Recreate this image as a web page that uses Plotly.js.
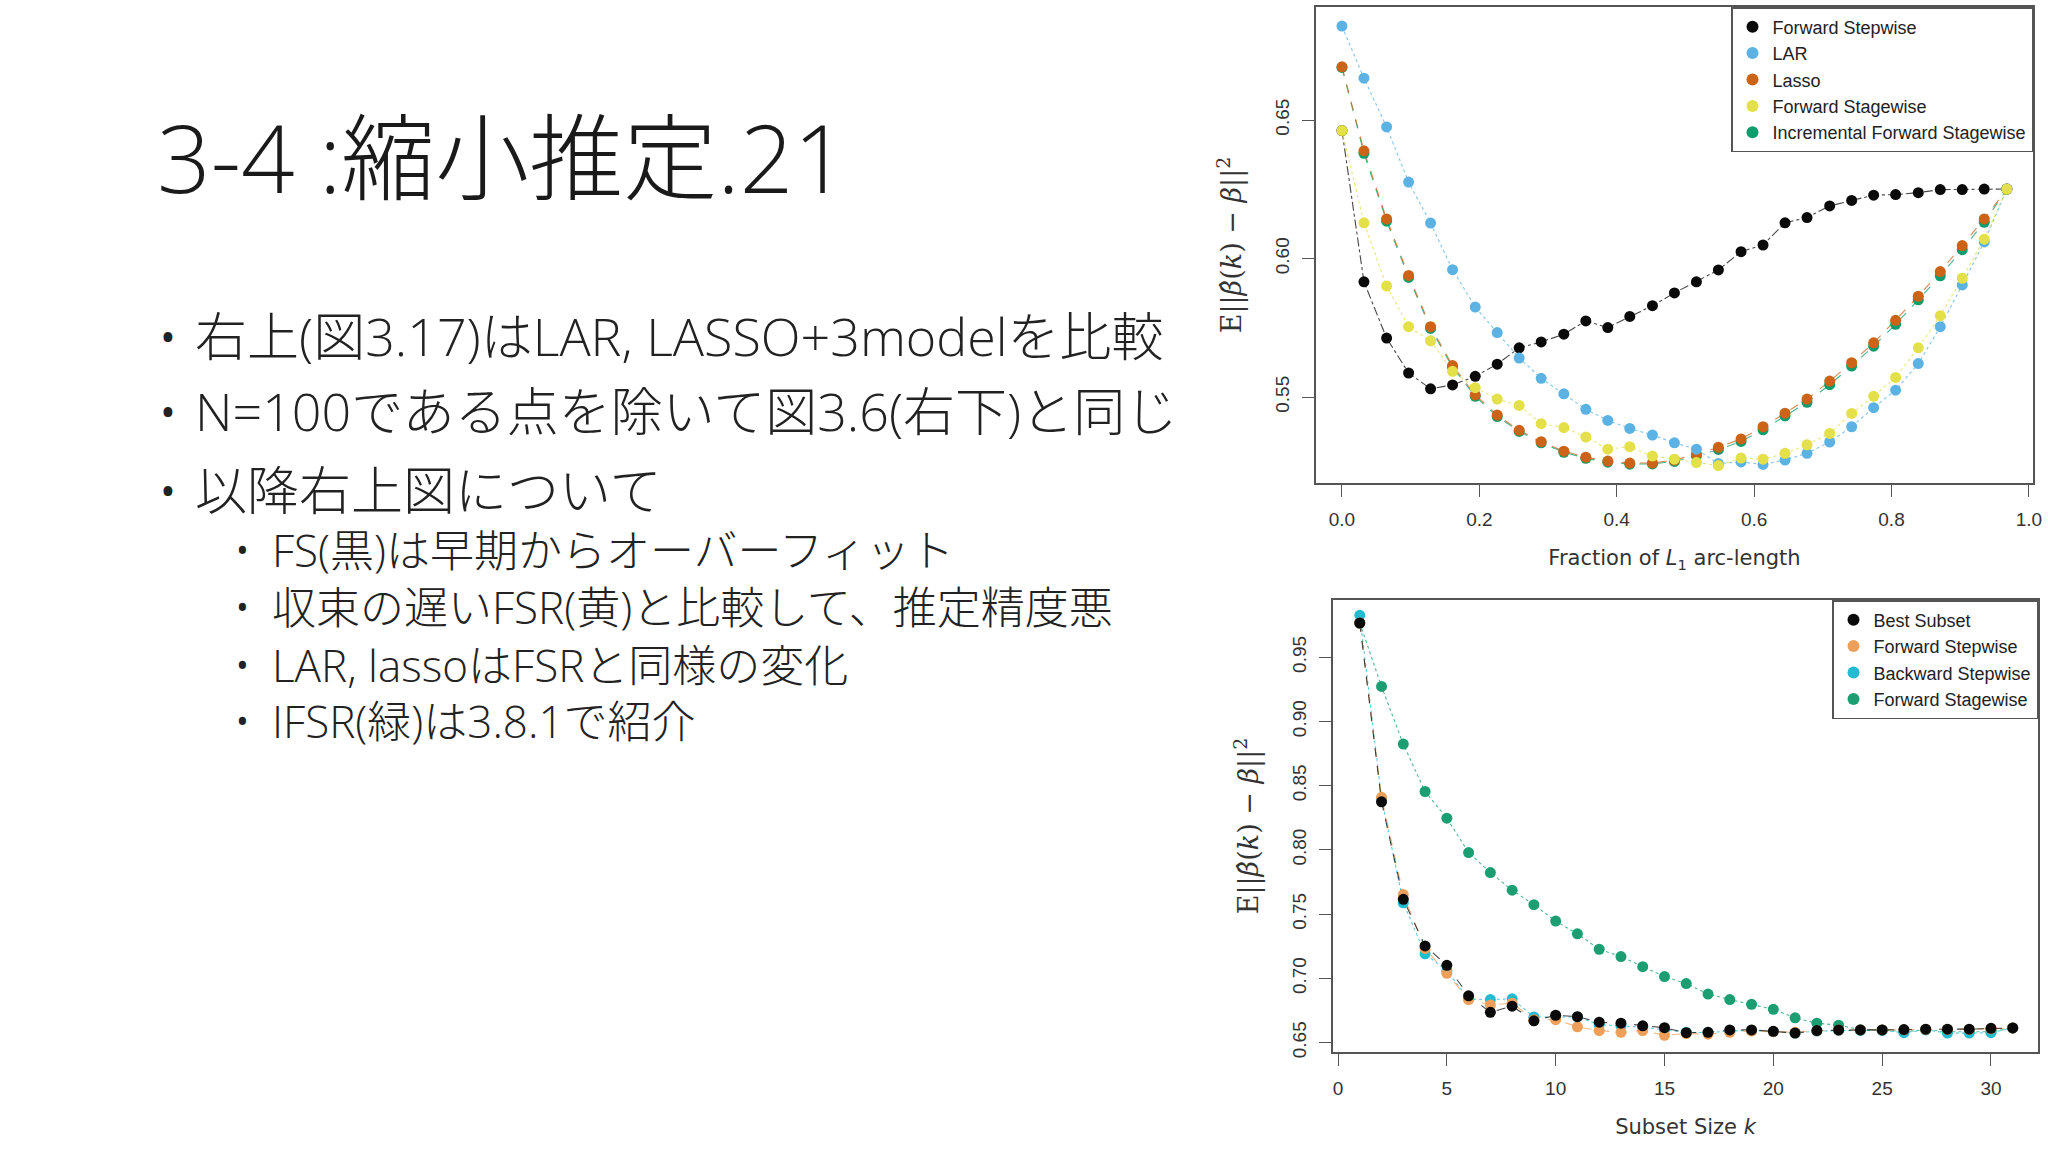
<!DOCTYPE html>
<html>
<head>
<meta charset="utf-8">
<script src="https://cdn.plot.ly/plotly-3.0.1.min.js"></script>
<style>
html, body { margin: 0; padding: 0; background: #ffffff; }
#chart { width: 2048px; height: 1152px; }
</style>
</head>
<body>
<div id="chart"></div>
<script>
// ---------------- Slide text ----------------
const slideTitle = "3-4 :縮小推定.21";
const mainBullets = [
  "右上(図3.17)はLAR, LASSO+3modelを比較",
  "N=100である点を除いて図3.6(右下)と同じ",
  "以降右上図について"
];
const subBullets = [
  "FS(黒)は早期からオーバーフィット",
  "収束の遅いFSR(黄)と比較して、推定精度悪",
  "LAR, lassoはFSRと同様の変化",
  "IFSR(緑)は3.8.1で紹介"
];

// ---------------- Top chart (Fig 3.17) ----------------
const topFraction = [0.000, 0.032, 0.065, 0.097, 0.129, 0.161, 0.194, 0.226, 0.258, 0.290,
                     0.323, 0.355, 0.387, 0.419, 0.452, 0.484, 0.516, 0.548, 0.581, 0.613,
                     0.645, 0.677, 0.710, 0.742, 0.774, 0.806, 0.839, 0.871, 0.903, 0.935, 0.968];
const topForwardStepwise = [0.6462, 0.5916, 0.5713, 0.5587, 0.5530, 0.5544, 0.5575, 0.5619, 0.5678, 0.5699,
                            0.5727, 0.5775, 0.5751, 0.5791, 0.5830, 0.5876, 0.5916, 0.5959, 0.6025, 0.6049,
                            0.6129, 0.6148, 0.6190, 0.6210, 0.6229, 0.6231, 0.6238, 0.6249, 0.6249, 0.6251, 0.6251];
const topLAR = [0.6839, 0.6651, 0.6475, 0.6276, 0.6128, 0.5960, 0.5825, 0.5733, 0.5641, 0.5568,
                0.5512, 0.5456, 0.5416, 0.5387, 0.5363, 0.5335, 0.5312, 0.5260, 0.5266, 0.5257,
                0.5273, 0.5297, 0.5338, 0.5393, 0.5462, 0.5525, 0.5621, 0.5754, 0.5905, 0.6060, 0.6251];
const topLasso = [0.6692, 0.6389, 0.6143, 0.5939, 0.5754, 0.5614, 0.5508, 0.5435, 0.5380, 0.5339,
                  0.5305, 0.5283, 0.5269, 0.5262, 0.5262, 0.5273, 0.5294, 0.5319, 0.5349, 0.5393,
                  0.5442, 0.5493, 0.5558, 0.5624, 0.5696, 0.5777, 0.5864, 0.5953, 0.6047, 0.6143, 0.6251];
const topForwardStagewise = [0.6462, 0.6129, 0.5901, 0.5754, 0.5703, 0.5593, 0.5534, 0.5493, 0.5470, 0.5404,
                             0.5390, 0.5356, 0.5312, 0.5321, 0.5287, 0.5276, 0.5264, 0.5253, 0.5280, 0.5276,
                             0.5297, 0.5328, 0.5369, 0.5441, 0.5503, 0.5571, 0.5678, 0.5794, 0.5929, 0.6070, 0.6251];
const topIncremental = [0.6690, 0.6380, 0.6135, 0.5932, 0.5748, 0.5608, 0.5503, 0.5430, 0.5376, 0.5335,
                        0.5301, 0.5279, 0.5265, 0.5258, 0.5259, 0.5268, 0.5288, 0.5311, 0.5340, 0.5382,
                        0.5432, 0.5481, 0.5545, 0.5612, 0.5684, 0.5763, 0.5851, 0.5938, 0.6032, 0.6131, 0.6251];
const topXTicks = [0.0, 0.2, 0.4, 0.6, 0.8, 1.0];
const topXTickText = ["0.0", "0.2", "0.4", "0.6", "0.8", "1.0"];
const topYTicks = [0.55, 0.60, 0.65];
const topYTickText = ["0.55", "0.60", "0.65"];

// ---------------- Bottom chart (Fig 3.6) ----------------
const subsetSize = [1, 2, 3, 4, 5, 6, 7, 8, 9, 10, 11, 12, 13, 14, 15, 16,
                    17, 18, 19, 20, 21, 22, 23, 24, 25, 26, 27, 28, 29, 30, 31];
const botBestSubset = [0.9767, 0.8375, 0.7616, 0.7253, 0.7102, 0.6864, 0.6736, 0.6784, 0.6670, 0.6713,
                       0.6702, 0.6659, 0.6651, 0.6631, 0.6616, 0.6577, 0.6580, 0.6599, 0.6599, 0.6588,
                       0.6574, 0.6594, 0.6599, 0.6599, 0.6599, 0.6602, 0.6605, 0.6605, 0.6605, 0.6611, 0.6614];
const botForwardStepwise = [0.9767, 0.8410, 0.7653, 0.7233, 0.7040, 0.6835, 0.6793, 0.6807, 0.6679, 0.6679,
                            0.6623, 0.6594, 0.6580, 0.6594, 0.6557, 0.6571, 0.6566, 0.6580, 0.6590, 0.6585,
                            0.6580, 0.6592, 0.6598, 0.6599, 0.6599, 0.6600, 0.6603, 0.6603, 0.6603, 0.6608, 0.6614];
const botBackwardStepwise = [0.9827, 0.8400, 0.7589, 0.7191, 0.7060, 0.6840, 0.6835, 0.6841, 0.6700, 0.6700,
                             0.6700, 0.6640, 0.6630, 0.6620, 0.6600, 0.6580, 0.6578, 0.6590, 0.6595, 0.6585,
                             0.6575, 0.6590, 0.6595, 0.6595, 0.6595, 0.6577, 0.6600, 0.6574, 0.6574, 0.6577, 0.6614];
const botForwardStagewise = [0.9767, 0.9273, 0.8824, 0.8455, 0.8247, 0.7980, 0.7824, 0.7687, 0.7574, 0.7446,
                             0.7347, 0.7227, 0.7170, 0.7091, 0.7014, 0.6960, 0.6878, 0.6835, 0.6798, 0.6759,
                             0.6693, 0.6651, 0.6636, 0.6600, 0.6598, 0.6585, 0.6600, 0.6585, 0.6585, 0.6585, 0.6614];
const botXTicks = [0, 5, 10, 15, 20, 25, 30];
const botYTicks = [0.65, 0.70, 0.75, 0.80, 0.85, 0.90, 0.95];
const botYTickText = ["0.65", "0.70", "0.75", "0.80", "0.85", "0.90", "0.95"];

// ---------------- Helpers ----------------
const W = 2048, H = 1152;
const px = v => v / W;
const py = v => 1 - v / H;

const SANS = "Liberation Sans, Arial, sans-serif";
const SERIF = "DejaVu Serif, Liberation Serif, serif";
const JP = "Open Sans, Noto Sans CJK JP, sans-serif";
const MSIZE = 11;

function seriesTraces(x, y, color, dash, name, xa, ya, legendId, rank) {
  return [
    { x: x, y: y, xaxis: xa, yaxis: ya, type: "scatter", mode: "lines", name: name + " line",
      line: { color: color, width: 1.1, dash: dash }, opacity: 0.75, showlegend: false, hoverinfo: "skip" },
    { x: x, y: y, xaxis: xa, yaxis: ya, type: "scatter", mode: "markers", name: name,
      marker: { color: color, size: MSIZE, line: { width: 0 } },
      legend: legendId, legendrank: rank }
  ];
}

const C = {
  black: "#0a0a0a",
  lar: "#5cb3e3",
  lasso: "#cc6418",
  fstage: "#e3e04a",
  ifs: "#0f9d6e",
  bFwd: "#eea05a",
  bBwd: "#22bcd2",
  bStage: "#1b9f72"
};

const lineTraces = [];
const markerTraces = [];
function add(pair) { lineTraces.push(pair[0]); markerTraces.push(pair[1]); }

// top chart: draw order chosen so overlapping points look like the reference
add(seriesTraces(topFraction, topForwardStepwise, C.black, "dashdot", "Forward Stepwise", "x", "y", "legend", 1));
add(seriesTraces(topFraction, topIncremental, C.ifs, "dash", "Incremental Forward Stagewise", "x", "y", "legend", 5));
add(seriesTraces(topFraction, topLasso, C.lasso, "dash", "Lasso", "x", "y", "legend", 3));
add(seriesTraces(topFraction, topLAR, C.lar, "dot", "LAR", "x", "y", "legend", 2));
add(seriesTraces(topFraction, topForwardStagewise, C.fstage, "dot", "Forward Stagewise", "x", "y", "legend", 4));

// bottom chart
add(seriesTraces(subsetSize, botForwardStagewise, C.bStage, "dot", "Forward Stagewise", "x2", "y2", "legend2", 4));
add(seriesTraces(subsetSize, botBackwardStepwise, C.bBwd, "dot", "Backward Stepwise", "x2", "y2", "legend2", 3));
add(seriesTraces(subsetSize, botForwardStepwise, C.bFwd, "dash", "Forward Stepwise", "x2", "y2", "legend2", 2));
add(seriesTraces(subsetSize, botBestSubset, C.black, "dash", "Best Subset", "x2", "y2", "legend2", 1));

const data = lineTraces.concat(markerTraces);

const axisCommon = {
  showline: true, mirror: true, linecolor: "#555555", linewidth: 1.5,
  ticks: "outside", ticklen: 12, tickwidth: 1.3, tickcolor: "#555555",
  showgrid: false, zeroline: false, tickmode: "array",
  tickfont: { family: SANS, size: 19, color: "#333333" },
  ticklabelstandoff: 6, fixedrange: true
};

const yTitle = "E||<i>β̂</i>(<i>k</i>) − <i>β</i>||<sup>2</sup>";

const annotations = [];
annotations.push({
  xref: "paper", yref: "paper", x: px(155), y: py(157), xanchor: "left", yanchor: "middle",
  text: slideTitle, showarrow: false,
  font: { family: JP, size: 94, color: "#1a1a1a", weight: 300 }
});
const mainY = [335, 410, 489];
mainBullets.forEach((t, i) => {
  annotations.push({ xref: "paper", yref: "paper", x: px(158), y: py(mainY[i]), xanchor: "left", yanchor: "middle",
    text: "•", showarrow: false, font: { family: JP, size: 42, color: "#222222" } });
  annotations.push({ xref: "paper", yref: "paper", x: px(193), y: py(mainY[i]), xanchor: "left", yanchor: "middle",
    text: t, showarrow: false, font: { family: JP, size: 52, color: "#222222", weight: 300 } });
});
const subY = [550, 607, 665, 721];
subBullets.forEach((t, i) => {
  annotations.push({ xref: "paper", yref: "paper", x: px(234), y: py(subY[i]), xanchor: "left", yanchor: "middle",
    text: "•", showarrow: false, font: { family: JP, size: 34, color: "#222222" } });
  annotations.push({ xref: "paper", yref: "paper", x: px(270), y: py(subY[i]), xanchor: "left", yanchor: "middle",
    text: t, showarrow: false, font: { family: JP, size: 44, color: "#222222", weight: 300 } });
});

const legendCommon = {
  xanchor: "right", yanchor: "top",
  bgcolor: "#ffffff", bordercolor: "#555555", borderwidth: 1.5,
  font: { family: SANS, size: 18, color: "#222222" },
  itemsizing: "constant", traceorder: "normal", tracegroupgap: 0
};

const layout = {
  width: W, height: H,
  margin: { l: 0, r: 0, t: 0, b: 0, pad: 0 },
  paper_bgcolor: "#ffffff", plot_bgcolor: "#ffffff",
  showlegend: true,
  xaxis: Object.assign({}, axisCommon, {
    domain: [px(1316), px(2033)], range: [-0.0378, 1.006], anchor: "y",
    tickvals: topXTicks, ticktext: topXTickText,
    title: { text: "Fraction of <i>L</i><sub>1</sub> arc-length", standoff: 22,
             font: { family: "DejaVu Sans, sans-serif", size: 21, color: "#333333" } }
  }),
  yaxis: Object.assign({}, axisCommon, {
    domain: [py(483), py(7)], range: [0.519, 0.6908], anchor: "x",
    tickvals: topYTicks, ticktext: topYTickText, tickangle: -90,
    title: { text: yTitle, standoff: 22,
             font: { family: SERIF, size: 27, color: "#333333" } }
  }),
  xaxis2: Object.assign({}, axisCommon, {
    domain: [px(1333), px(2038)], range: [-0.23, 32.16], anchor: "y2",
    tickvals: botXTicks,
    title: { text: "Subset Size <i>k</i>", standoff: 22,
             font: { family: "DejaVu Sans, sans-serif", size: 21, color: "#333333" } }
  }),
  yaxis2: Object.assign({}, axisCommon, {
    domain: [py(1052), py(600)], range: [0.6427, 0.9946], anchor: "x2",
    tickvals: botYTicks, ticktext: botYTickText, tickangle: -90,
    title: { text: yTitle, standoff: 22,
             font: { family: SERIF, size: 27, color: "#333333" } }
  }),
  legend: Object.assign({}, legendCommon, { x: px(2033), y: py(7) }),
  legend2: Object.assign({}, legendCommon, { x: px(2038), y: py(600) }),
  annotations: annotations
};

Plotly.newPlot("chart", data, layout, { displayModeBar: false, responsive: false });
</script>
</body>
</html>
